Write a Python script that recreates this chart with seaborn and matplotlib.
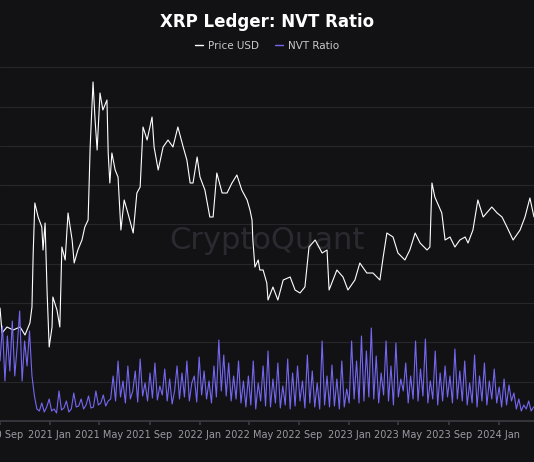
import numpy as np
import pandas as pd
import seaborn as sns
import matplotlib.pyplot as plt
import matplotlib.dates as mdates
from matplotlib.lines import Line2D

start = pd.Timestamp("2020-09-01")

# price: days since start, value
price_days = [0, 5, 17, 32, 49, 61, 73, 78, 81, 85, 93, 102, 105, 110, 115, 120, 127, 129, 139, 146,
              151, 159, 166, 176, 181, 190, 200, 207, 215, 220, 227, 232, 237, 244, 251, 261, 264, 268,
              273, 281, 288, 295, 303, 312, 325, 334, 342, 349, 359, 371, 376, 386, 398, 410, 422, 434,
              447, 456, 464, 471, 481, 488, 500, 512, 520, 529, 542, 554, 566, 578, 590, 603, 610, 615,
              617, 622, 630, 634, 642, 651, 654, 666, 678, 691, 708, 720, 732, 744, 754, 769, 786, 798,
              803, 822, 837, 849, 866, 878, 895, 910, 927, 935, 944, 959, 971, 988, 1000, 1013, 1025,
              1042, 1049, 1054, 1061, 1078, 1086, 1098, 1110, 1122, 1135, 1142, 1154, 1166, 1179, 1200,
              1213, 1225, 1237, 1252, 1269, 1281, 1293, 1303]
price_usd = [0.565, 0.44, 0.47, 0.455, 0.47, 0.43, 0.49, 0.57, 0.84, 1.09, 1.02, 0.97, 0.855, 0.99, 0.64,
             0.37, 0.47, 0.62, 0.555, 0.47, 0.87, 0.805, 1.04, 0.905, 0.79, 0.855, 0.905, 0.97, 1.005,
             1.37, 1.695, 1.505, 1.355, 1.64, 1.555, 1.605, 1.34, 1.19, 1.34, 1.255, 1.22, 0.955, 1.105,
             1.04, 0.94, 1.14, 1.17, 1.47, 1.405, 1.52, 1.37, 1.255, 1.37, 1.405, 1.37, 1.47, 1.37,
             1.305, 1.19, 1.19, 1.32, 1.22, 1.155, 1.02, 1.02, 1.24, 1.14, 1.14, 1.19, 1.23, 1.155,
             1.105, 1.055, 1.005, 0.905, 0.77, 0.805, 0.755, 0.755, 0.69, 0.605, 0.67, 0.605, 0.705,
             0.72, 0.655, 0.64, 0.67, 0.87, 0.905, 0.84, 0.855, 0.655, 0.755, 0.72, 0.655, 0.705, 0.79,
             0.74, 0.74, 0.705, 0.82, 0.94, 0.92, 0.84, 0.805, 0.855, 0.94, 0.89, 0.855, 0.87, 1.19,
             1.12, 1.04, 0.905, 0.92, 0.87, 0.905, 0.92, 0.89, 0.955, 1.105, 1.02, 1.07, 1.04, 1.02,
             0.97, 0.905, 0.955, 1.02, 1.115, 1.02]

# NVT ratio, one reading every 6 days from start
nvt_ratio = [60, 95, 40, 85, 50, 100, 45, 75, 110, 40, 80, 55, 90, 45,
             25, 12, 10, 18, 9, 14, 22, 10, 12, 8, 30, 11, 13, 20, 9, 12, 28, 14, 15, 22, 12, 16,
             25, 13, 14, 30, 16, 18, 26, 15, 20,
             22, 45, 20, 60, 24, 40, 18, 55, 22, 30, 50, 19, 62, 25, 38, 20, 48, 23, 58, 21, 35,
             26, 52, 20, 42, 17, 30, 55, 22, 48, 24, 60, 20, 38, 45, 19, 64, 26, 50, 22, 40, 18,
             55, 24, 81, 30, 66, 25, 58, 20, 45, 22, 60, 18, 40,
             14, 45, 16, 60, 12, 38, 20, 55, 15, 70, 14, 42, 18, 58, 13, 35, 16, 62, 12, 48, 15,
             55, 20, 40, 13, 66, 18, 50, 14, 38, 12, 80, 16, 45, 14, 56, 15, 42, 12, 60, 14, 32,
             18, 80, 22, 60, 18, 85, 20, 70, 24, 93, 22, 65, 18, 48, 26, 80, 20, 55, 16, 78, 24,
             42, 30, 58, 18, 45, 22, 80, 20, 52, 25, 82, 18, 40, 22, 70, 16, 48, 20, 55, 24, 45,
             18, 72, 22, 50, 20, 60, 16, 38, 18, 66, 14, 45, 20, 58, 16, 40, 22, 52, 18, 34,
             14, 42, 16, 36, 20, 28, 12, 22, 10, 16, 12, 20, 10, 14]

price_df = pd.DataFrame({"date": start + pd.to_timedelta(price_days, unit="D"), "value": price_usd})
nvt_df = pd.DataFrame({"date": start + pd.to_timedelta(np.arange(len(nvt_ratio)) * 6, unit="D"),
                       "value": nvt_ratio})

bg = "#121215"
nvt_color = "#7467f0"
sns.set_theme(style="dark", rc={"axes.facecolor": bg, "figure.facecolor": bg})
plt.rcParams['font.family'] = ['DejaVu Sans']

fig = plt.figure(figsize=(5.34, 4.62), dpi=100)
ax = fig.add_axes([0, 41 / 462, 1, 361 / 462])
ax2 = ax.twinx()

sns.lineplot(data=price_df, x="date", y="value", ax=ax, color="white", linewidth=0.8)
sns.lineplot(data=nvt_df, x="date", y="value", ax=ax2, color=nvt_color, linewidth=0.8)

ax.set_xlim(start, start + pd.Timedelta(days=1303))
ax.set_ylim(0, 1.805)
ax2.set_ylim(0, 361)
ax.set_yticks(np.arange(1, 10) * 0.1965)
ax.grid(axis="y", color="#26262b", linewidth=0.8)
ax.grid(axis="x", visible=False)
ax.tick_params(axis="y", left=False, labelleft=False)
ax2.tick_params(axis="y", right=False, labelright=False)
ax2.set_yticks([])

ax.xaxis.set_major_locator(mdates.MonthLocator(bymonth=[1, 5, 9]))
ax.xaxis.set_major_formatter(mdates.DateFormatter("%Y %b"))
ax.tick_params(axis="x", colors="#9a9aa2", labelsize=7, length=3, color="#3a3a40", bottom=True)
for a in (ax, ax2):
    a.set_xlabel("")
    a.set_ylabel("")
    for s in a.spines.values():
        s.set_visible(False)
ax.spines["bottom"].set_visible(True)
ax.spines["bottom"].set_color("#3a3a40")

fig.text(0.5, 1 - 22 / 462, "XRP Ledger: NVT Ratio", ha="center", va="center",
         color="white", fontsize=12, fontweight="bold")
handles = [Line2D([], [], color="white", linewidth=1), Line2D([], [], color=nvt_color, linewidth=1)]
fig.legend(handles, ["Price USD", "NVT Ratio"], loc="center", bbox_to_anchor=(0.5, 1 - 46 / 462),
           ncol=2, frameon=False, fontsize=7.5, labelcolor="#c8c8cc", handlelength=0.8,
           handletextpad=0.5, columnspacing=1.5)
ax.text(0.5, 0.5, "CryptoQuant", transform=ax.transAxes, ha="center", va="center",
        color="#2a2a30", fontsize=22, zorder=0)

fig.savefig("out.png", dpi=100, facecolor=bg)
